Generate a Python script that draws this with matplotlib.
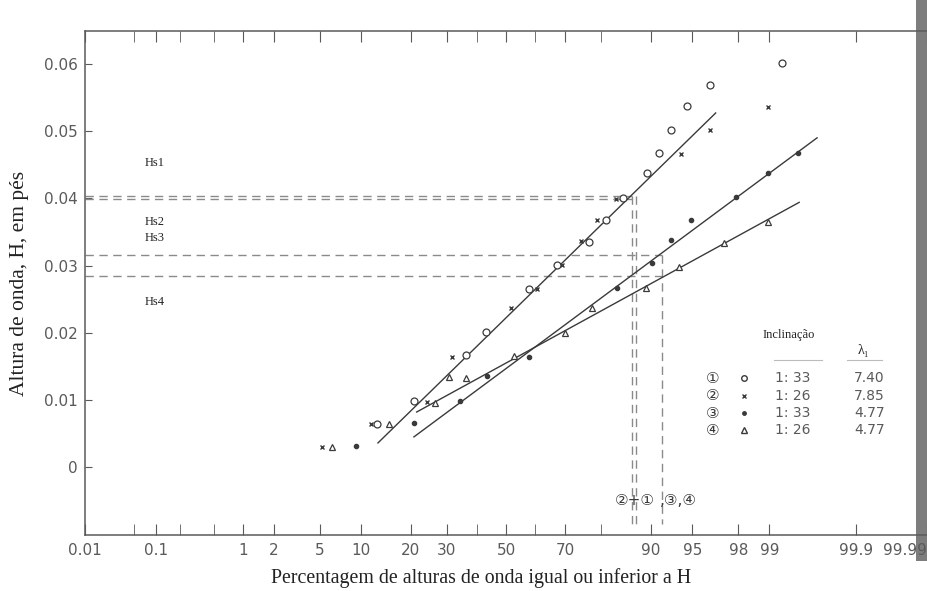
import math
import numpy as np
import matplotlib
matplotlib.use("Agg")
import matplotlib.pyplot as plt
from matplotlib.patches import Rectangle

# percent of waves <= H (probability scale) and wave height H (ft)
s1_pct = [12.7, 20.8, 36.2, 43.0, 58.1, 67.4, 76.9, 81.2, 85.0, 89.4, 91.2, 92.8, 94.5, 96.4, 99.27]
s1_h = [0.0064, 0.0098, 0.0167, 0.0201, 0.0265, 0.0301, 0.0335, 0.0368, 0.0400, 0.0438, 0.0467, 0.0501, 0.0537, 0.0568, 0.0601]

s2_pct = [5.2, 11.6, 24.2, 31.6, 51.8, 60.8, 69.0, 74.7, 79.0, 83.5, 93.9, 96.4, 98.96]
s2_h = [0.0030, 0.0064, 0.0097, 0.0164, 0.0237, 0.0265, 0.0301, 0.0336, 0.0368, 0.0399, 0.0466, 0.0501, 0.0536]

s3_pct = [9.2, 20.8, 34.2, 43.3, 58.1, 83.7, 90.2, 92.8, 94.9, 97.9, 98.96, 99.50]
s3_h = [0.0031, 0.0065, 0.0098, 0.0135, 0.0164, 0.0266, 0.0304, 0.0338, 0.0368, 0.0402, 0.0438, 0.0467]

s4_pct = [6.2, 15.0, 26.5, 30.7, 36.2, 52.8, 69.9, 77.7, 89.2, 93.7, 97.3, 98.96]
s4_h = [0.0030, 0.0064, 0.0095, 0.0134, 0.0132, 0.0165, 0.0199, 0.0237, 0.0266, 0.0298, 0.0333, 0.0365]

# hand-drawn fitted lines (end points)
fit1_pct, fit1_h = [12.9, 96.8], [0.0036, 0.0527]
fit3_pct, fit3_h = [20.8, 99.70], [0.0045, 0.0490]
fit4_pct, fit4_h = [21.5, 99.52], [0.0082, 0.0394]

# Hs reading lines
hs_levels = [0.0403, 0.0399, 0.0315, 0.0284]
hs_pct = [86.8, 86.8, 91.6, 91.6]
vert_pct = [86.8, 87.5, 91.6]
vert_top = [0.0403, 0.0403, 0.0315]

hs_names = ['Hs1', 'Hs2', 'Hs3', 'Hs4']
hs_text_y = [0.0452, 0.0365, 0.0341, 0.0246]

xticks_major = [0.01, 0.1, 1, 2, 5, 10, 20, 30, 50, 70, 90, 95, 98, 99, 99.9, 99.99]
xtick_labels = ['0.01', '0.1', '1', '2', '5', '10', '20', '30', '50', '70', '90', '95', '98', '99', '99.9', '99.99']
xticks_minor = [0.05, 0.2, 0.5, 40, 60, 80]
yticks = [0, 0.01, 0.02, 0.03, 0.04, 0.05, 0.06]
ytick_labels = ['0', '0.01', '0.02', '0.03', '0.04', '0.05', '0.06']

leg_num = ['①', '②', '③', '④']
leg_incl = ['1: 33', '1: 26', '1: 33', '1: 26']
leg_lam = ['7.40', '7.85', '4.77', '4.77']


# inverse normal cdf (Acklam), percent -> z
def probit(p):
    p = np.clip(np.asarray(p, dtype=float) / 100.0, 1e-9, 1 - 1e-9)
    a = [-3.969683028665376e+01, 2.209460984245205e+02, -2.759285104469687e+02,
         1.383577518672690e+02, -3.066479806614716e+01, 2.506628277459239e+00]
    b = [-5.447609879822406e+01, 1.615858368580409e+02, -1.556989798598866e+02,
         6.680131188771972e+01, -1.328068155288572e+01]
    c = [-7.784894002430293e-03, -3.223964580411365e-01, -2.400758277161838e+00,
         -2.549671348402664e+00, 4.374664141464968e+00, 2.938163982698783e+00]
    d = [7.784695709041462e-03, 3.224671290700398e-01, 2.445134137142996e+00,
         3.754408661907416e+00]
    z = np.zeros_like(p)
    lo = p < 0.02425
    hi = p > 1 - 0.02425
    mid = ~(lo | hi)
    q = p[mid] - 0.5
    r = q * q
    z[mid] = (((((a[0]*r+a[1])*r+a[2])*r+a[3])*r+a[4])*r+a[5])*q / \
             (((((b[0]*r+b[1])*r+b[2])*r+b[3])*r+b[4])*r+1)
    q = np.sqrt(-2 * np.log(p[lo]))
    z[lo] = (((((c[0]*q+c[1])*q+c[2])*q+c[3])*q+c[4])*q+c[5]) / \
            ((((d[0]*q+d[1])*q+d[2])*q+d[3])*q+1)
    q = np.sqrt(-2 * np.log(1 - p[hi]))
    z[hi] = -(((((c[0]*q+c[1])*q+c[2])*q+c[3])*q+c[4])*q+c[5]) / \
             ((((d[0]*q+d[1])*q+d[2])*q+d[3])*q+1)
    return z


_erf = np.vectorize(math.erf)


def inv_probit(z):
    z = np.asarray(z, dtype=float)
    return 50.0 * (1 + _erf(z / math.sqrt(2)))


ink = '#3a3a3a'
grey = '#5a5a5a'

fig = plt.figure(figsize=(9.27, 5.91), dpi=100)
ax = fig.add_axes([85/927, 1-535/591, 1-85/927, (535-31)/591])
ax.set_xscale('function', functions=(probit, inv_probit))
ax.set_xlim(0.01, 99.99)
ax.set_ylim(-0.0101, 0.0649)

# reading lines
dash = dict(color='#8a8a8a', lw=1.0, dashes=(6, 4))
for lev, p in zip(hs_levels, hs_pct):
    ax.plot([0.01, p], [lev, lev], **dash)
for p, top in zip(vert_pct, vert_top):
    ax.plot([p, p], [top, -0.0085], **dash)

# fitted lines
for xs, ys in [(fit1_pct, fit1_h), (fit3_pct, fit3_h), (fit4_pct, fit4_h)]:
    ax.plot(xs, ys, color=ink, lw=1.0)

# data
ax.plot(s1_pct, s1_h, 'o', ms=5, mfc='white', mec=ink, mew=0.9, ls='none')
ax.plot(s2_pct, s2_h, 'x', ms=3.5, mec=ink, mew=1.0, ls='none')
ax.plot(s3_pct, s3_h, 'o', ms=3, mfc=ink, mec=ink, ls='none')
ax.plot(s4_pct, s4_h, '^', ms=5, mfc='white', mec=ink, mew=0.9, ls='none')

# ticks
ax.set_xticks(xticks_major)
ax.set_xticklabels(xtick_labels)
ax.set_xticks(xticks_minor, minor=True)
ax.set_yticks(yticks)
ax.set_yticklabels(ytick_labels)
ax.tick_params(axis='x', which='both', direction='in', length=8, top=True,
               labelsize=11, labelcolor=grey, color=grey, pad=6)
ax.tick_params(axis='y', direction='in', length=5, labelsize=11,
               labelcolor=grey, color=grey, pad=5)
ax.get_xticklabels()[-1].set_ha('right')
for s in ['left', 'bottom', 'top']:
    ax.spines[s].set_color(grey)
    ax.spines[s].set_linewidth(1.1)
ax.spines['right'].set_visible(False)

ax.set_ylabel('Altura de onda, H, em pés', family='Liberation Serif',
              fontsize=15.5, color='#222')
ax.yaxis.set_label_coords(-0.066, 0.5)
ax.set_xlabel('Percentagem de alturas de onda igual ou inferior a H',
              family='Liberation Serif', fontsize=14.3, color='#222')
ax.xaxis.set_label_coords(0.47, -0.066)

# Hs labels
serif = dict(family='Liberation Serif', fontsize=9, color='#222')
for name, y in zip(hs_names, hs_text_y):
    ax.text(0.07, y, name, va='center', **serif)

# legend table
ax.text(99.38, 0.0196, 'Inclinação', ha='center', va='center', **serif)
ax.plot([99.11, 99.74], [0.0159, 0.0159], color='#bbb', lw=0.8)
ax.plot([99.87, 99.955], [0.0159, 0.0159], color='#bbb', lw=0.8)
ax.text(99.92, 0.0174, 'λ₁', ha='center', va='center', family='Liberation Serif',
        fontsize=10, color='#222')
row_y = [0.0132, 0.0106, 0.0080, 0.0055]
marks = [dict(marker='o', ms=4, mfc='white'), dict(marker='x', ms=3),
         dict(marker='o', ms=2.5, mfc=ink), dict(marker='^', ms=4.5, mfc='white')]
for i in range(4):
    ax.text(96.6, row_y[i], leg_num[i], ha='center', va='center', fontsize=11,
            family=['DejaVu Sans', 'Noto Sans CJK SC'], color=ink)
    ax.plot([98.24], [row_y[i]], ls='none', mec=ink, color=ink, **marks[i])
    ax.text(99.43, row_y[i], leg_incl[i], ha='center', va='center', fontsize=10, color=grey)
    ax.text(99.934, row_y[i], leg_lam[i], ha='center', va='center', fontsize=10, color=grey)

ax.text(87.2, -0.0049, '②+①', ha='center', va='center', fontsize=11,
        family=['DejaVu Sans', 'Noto Sans CJK SC'], color=ink)
ax.text(93.6, -0.0049, ',③,④', ha='center', va='center', fontsize=11,
        family=['DejaVu Sans', 'Noto Sans CJK SC'], color=ink)

# dark scan edge on the right
fig.add_artist(Rectangle((916/927, 0.05), 11/927, 0.95, transform=fig.transFigure,
                         color='#5c5c5c', alpha=0.8, lw=0))

fig.savefig('out.png', dpi=100)
